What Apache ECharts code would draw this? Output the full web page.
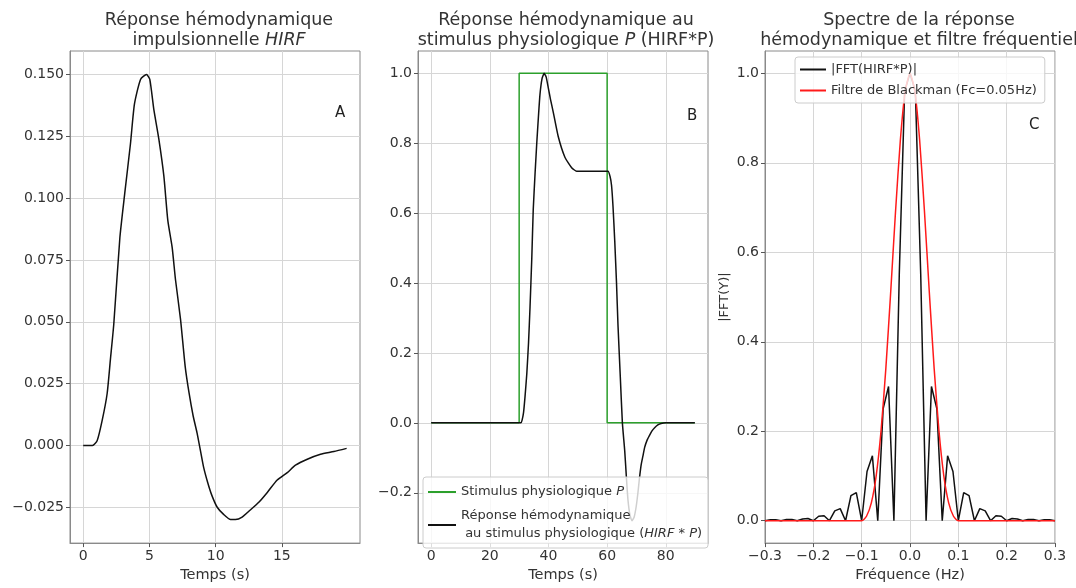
<!DOCTYPE html>
<html>
<head>
<meta charset="utf-8">
<script src="https://cdn.jsdelivr.net/npm/echarts@6/dist/echarts.min.js"></script>
<style>
html, body { margin: 0; padding: 0; background: #fff; }
#chart { width: 1076px; height: 588px; }
</style>
</head>
<body>
<div id="chart"></div>
<script>
// A : réponse impulsionnelle
const hirfT = [0, 0.7, 1.06, 1.43, 1.81, 2.06, 2.31, 2.77, 3.14, 3.57, 3.87, 4.33, 4.78, 5.03, 5.33, 5.71, 6.09, 6.39, 6.72, 6.97, 7.35, 7.7, 8.0, 8.3, 8.6, 8.85, 9.1, 9.4, 9.7, 10.12, 10.62, 11.13, 11.5, 12.0, 12.64, 13.26, 13.9, 14.65, 15.41, 16.03, 16.92, 17.92, 18.93, 19.89];
const hirfV = [0, 0, 0.002, 0.010, 0.021, 0.035, 0.049, 0.084, 0.102, 0.122, 0.138, 0.148, 0.150, 0.148, 0.136, 0.124, 0.109, 0.091, 0.080, 0.067, 0.051, 0.032, 0.021, 0.012, 0.005, -0.002, -0.009, -0.015, -0.020, -0.025, -0.028, -0.030, -0.030, -0.029, -0.026, -0.023, -0.019, -0.014, -0.011, -0.008, -0.0056, -0.0036, -0.0025, -0.0012];

// B : stimulus et réponse
const stimT = [0, 30, 30, 60, 60, 89.9];
const stimV = [0, 0, 1, 1, 0, 0];
const respT = [0, 30.6, 31.0, 31.5, 32.0, 32.6, 33.2, 33.7, 34.3, 34.8, 35.4, 36.0, 36.6, 37.1, 37.8, 38.5, 39.2, 39.9, 40.7, 41.6, 43.3, 45.6, 47.9, 49.6, 60.3, 61.0, 61.5, 62.0, 62.6, 63.2, 63.7, 64.5, 65.2, 66.0, 66.6, 67.1, 67.8, 68.5, 69.2, 69.9, 70.5, 71.0, 71.6, 72.2, 72.8, 73.6, 74.5, 75.3, 76.2, 77.3, 78.4, 80.0, 89.9];
const respV = [0, 0, 0.008, 0.03, 0.075, 0.14, 0.23, 0.33, 0.47, 0.61, 0.71, 0.80, 0.88, 0.94, 0.985, 1.0, 0.99, 0.96, 0.925, 0.89, 0.82, 0.76, 0.73, 0.72, 0.72, 0.705, 0.68, 0.62, 0.52, 0.40, 0.28, 0.13, 0.0, -0.08, -0.16, -0.22, -0.265, -0.28, -0.27, -0.24, -0.20, -0.16, -0.12, -0.095, -0.07, -0.05, -0.035, -0.023, -0.014, -0.006, -0.002, 0, 0];

// C : spectre |FFT(HIRF*P)| et filtre de Blackman
const fftF = [-0.3, -0.2889, -0.2778, -0.2667, -0.2556, -0.2444, -0.2333, -0.2222, -0.2111, -0.2, -0.1889, -0.1778, -0.1667, -0.1556, -0.1444, -0.1333, -0.1222, -0.1111, -0.1, -0.0889, -0.0778, -0.0667, -0.0556, -0.0444, -0.0333, -0.0222, -0.0111, 0, 0.0111, 0.0222, 0.0333, 0.0444, 0.0556, 0.0667, 0.0778, 0.0889, 0.1, 0.1111, 0.1222, 0.1333, 0.1444, 0.1556, 0.1667, 0.1778, 0.1889, 0.2, 0.2111, 0.2222, 0.2333, 0.2444, 0.2556, 0.2667, 0.2778, 0.2889, 0.3];
const fftV = [0, 0.002, 0.002, 0, 0.003, 0.003, 0, 0.004, 0.005, 0, 0.010, 0.011, 0, 0.022, 0.027, 0, 0.056, 0.063, 0, 0.11, 0.145, 0, 0.25, 0.30, 0, 0.55, 0.96, 1.0, 0.96, 0.55, 0, 0.30, 0.25, 0, 0.145, 0.11, 0, 0.063, 0.056, 0, 0.027, 0.022, 0, 0.011, 0.010, 0, 0.005, 0.004, 0, 0.003, 0.003, 0, 0.002, 0.002, 0];
const filtF = [-0.3, -0.1, -0.09, -0.08, -0.07, -0.06, -0.05, -0.04, -0.03, -0.02, -0.01, 0, 0.01, 0.02, 0.03, 0.04, 0.05, 0.06, 0.07, 0.08, 0.09, 0.1, 0.3];
const filtV = [0, 0, 0.01, 0.04, 0.10, 0.20, 0.34, 0.51, 0.69, 0.85, 0.96, 1.0, 0.96, 0.85, 0.69, 0.51, 0.34, 0.20, 0.10, 0.04, 0.01, 0, 0];

// graduations
const ticksAx = [0, 5, 10, 15];
const ticksAy = [-0.025, 0, 0.025, 0.05, 0.075, 0.1, 0.125, 0.15];
const ticksBx = [0, 20, 40, 60, 80];
const ticksBy = [-0.2, 0, 0.2, 0.4, 0.6, 0.8, 1.0];
const ticksCx = [-0.3, -0.2, -0.1, 0, 0.1, 0.2, 0.3];
const ticksCy = [0, 0.2, 0.4, 0.6, 0.8, 1.0];

const FONT = 'DejaVu Sans';
const pairs = (xs, ys) => xs.map((x, i) => [x, ys[i]]);
const minus = s => s.replace('-', '\u2212');

function axis(grid, min, max, ticks, dec, extra) {
  return Object.assign({
    type: 'value',
    gridIndex: grid,
    min: min,
    max: max,
    axisLine: { show: true, onZero: false, lineStyle: { color: '#8a8a8a', width: 1 } },
    axisTick: { show: true, inside: false, length: 4, customValues: ticks, lineStyle: { color: '#555' } },
    axisLabel: {
      customValues: ticks,
      color: '#333',
      fontSize: 14,
      fontFamily: FONT,
      margin: 6,
      formatter: v => minus(Number(v).toFixed(dec))
    },
    splitLine: { show: true, lineStyle: { color: '#d6d6d6', width: 1 } },
    nameTextStyle: { color: '#333', fontSize: 14.5, fontFamily: FONT }
  }, extra || {});
}

const chart = echarts.init(document.getElementById('chart'));
const titleStyle = { fontSize: 17.5, fontWeight: 'normal', fontFamily: FONT, color: '#333', lineHeight: 20 };
const italic = { fontStyle: 'italic', fontSize: 17.5, fontFamily: FONT, color: '#333' };
const italicSm = { fontStyle: 'italic', fontSize: 13, fontFamily: FONT, color: '#333' };
const letterStyle = { fontSize: 15, fontWeight: 'normal', fontFamily: FONT, color: '#222' };

chart.setOption({
  animation: false,
  backgroundColor: '#fff',
  title: [
    { text: 'Réponse hémodynamique\nimpulsionnelle {i|HIRF}', left: 214, top: 5, textAlign: 'center',
      textStyle: Object.assign({ rich: { i: italic } }, titleStyle) },
    { text: 'Réponse hémodynamique au\nstimulus physiologique {i|P} (HIRF*P)', left: 561, top: 5, textAlign: 'center',
      textStyle: Object.assign({ rich: { i: italic } }, titleStyle) },
    { text: 'Spectre de la réponse\nhémodynamique et filtre fréquentiel', left: 914, top: 5, textAlign: 'center',
      textStyle: titleStyle },
    { text: 'A', left: 330, top: 101, textStyle: letterStyle },
    { text: 'B', left: 682, top: 104, textStyle: letterStyle },
    { text: 'C', left: 1024, top: 113, textStyle: letterStyle }
  ],
  grid: [
    { left: 70, top: 51, width: 290, height: 495, show: true, borderColor: '#8a8a8a', borderWidth: 1, backgroundColor: 'transparent' },
    { left: 418, top: 51, width: 290, height: 495, show: true, borderColor: '#8a8a8a', borderWidth: 1, backgroundColor: 'transparent' },
    { left: 765, top: 51, width: 290, height: 495, show: true, borderColor: '#8a8a8a', borderWidth: 1, backgroundColor: 'transparent' }
  ],
  xAxis: [
    axis(0, -0.995, 20.9, ticksAx, 0, { name: 'Temps (s)', nameLocation: 'middle', nameGap: 23 }),
    axis(1, -4.5, 94.4, ticksBx, 0, { name: 'Temps (s)', nameLocation: 'middle', nameGap: 23 }),
    axis(2, -0.3, 0.3, ticksCx, 1, { name: 'Fréquence (Hz)', nameLocation: 'middle', nameGap: 23 })
  ],
  yAxis: [
    axis(0, -0.0395, 0.1595, ticksAy, 3),
    axis(1, -0.344, 1.064, ticksBy, 1),
    axis(2, -0.05, 1.05, ticksCy, 1, { name: '|FFT(Y)|', nameLocation: 'middle', nameGap: 34,
      nameTextStyle: { color: '#333', fontSize: 13, fontFamily: FONT } })
  ],
  legend: [
    {
      orient: 'vertical', left: 423, top: 477, icon: 'rect', itemWidth: 28, itemHeight: 2, itemGap: 6,
      padding: [6, 6, 5, 5],
      backgroundColor: 'rgba(255,255,255,0.8)', borderColor: '#cccccc', borderWidth: 1, borderRadius: 3,
      data: ['Stimulus physiologique P', 'Réponse hémodynamique au stimulus physiologique'],
      textStyle: { fontSize: 13, fontFamily: FONT, color: '#333', lineHeight: 18, rich: { i: italicSm } },
      formatter: function (name) {
        if (name === 'Stimulus physiologique P') return 'Stimulus physiologique {i|P}';
        return 'Réponse hémodynamique\n au stimulus physiologique ({i|HIRF * P})';
      }
    },
    {
      orient: 'vertical', left: 795, top: 57, icon: 'rect', itemWidth: 26, itemHeight: 2, itemGap: 8,
      padding: [6, 8, 6, 5],
      backgroundColor: 'rgba(255,255,255,0.8)', borderColor: '#cccccc', borderWidth: 1, borderRadius: 3,
      data: ['|FFT(HIRF*P)|', 'Filtre de Blackman (Fc=0.05Hz)'],
      textStyle: { fontSize: 13, fontFamily: FONT, color: '#333' }
    }
  ],
  series: [
    { name: 'HIRF', type: 'line', xAxisIndex: 0, yAxisIndex: 0, symbol: 'none', smooth: 0.2,
      lineStyle: { color: '#111', width: 1.5 }, itemStyle: { color: '#111' }, data: pairs(hirfT, hirfV) },
    { name: 'Stimulus physiologique P', type: 'line', xAxisIndex: 1, yAxisIndex: 1, symbol: 'none',
      lineStyle: { color: '#2ca02c', width: 1.5 }, itemStyle: { color: '#2ca02c' }, data: pairs(stimT, stimV) },
    { name: 'Réponse hémodynamique au stimulus physiologique', type: 'line', xAxisIndex: 1, yAxisIndex: 1, symbol: 'none',
      smooth: 0.15,
      lineStyle: { color: '#111', width: 1.5 }, itemStyle: { color: '#111' }, data: pairs(respT, respV) },
    { name: '|FFT(HIRF*P)|', type: 'line', xAxisIndex: 2, yAxisIndex: 2, symbol: 'none',
      lineStyle: { color: '#111', width: 1.5 }, itemStyle: { color: '#111' }, data: pairs(fftF, fftV) },
    { name: 'Filtre de Blackman (Fc=0.05Hz)', type: 'line', xAxisIndex: 2, yAxisIndex: 2, symbol: 'none',
      smooth: 0.2,
      lineStyle: { color: '#ff1a1a', width: 1.5 }, itemStyle: { color: '#ff1a1a' }, data: pairs(filtF, filtV) }
  ]
});
</script>
</body>
</html>
